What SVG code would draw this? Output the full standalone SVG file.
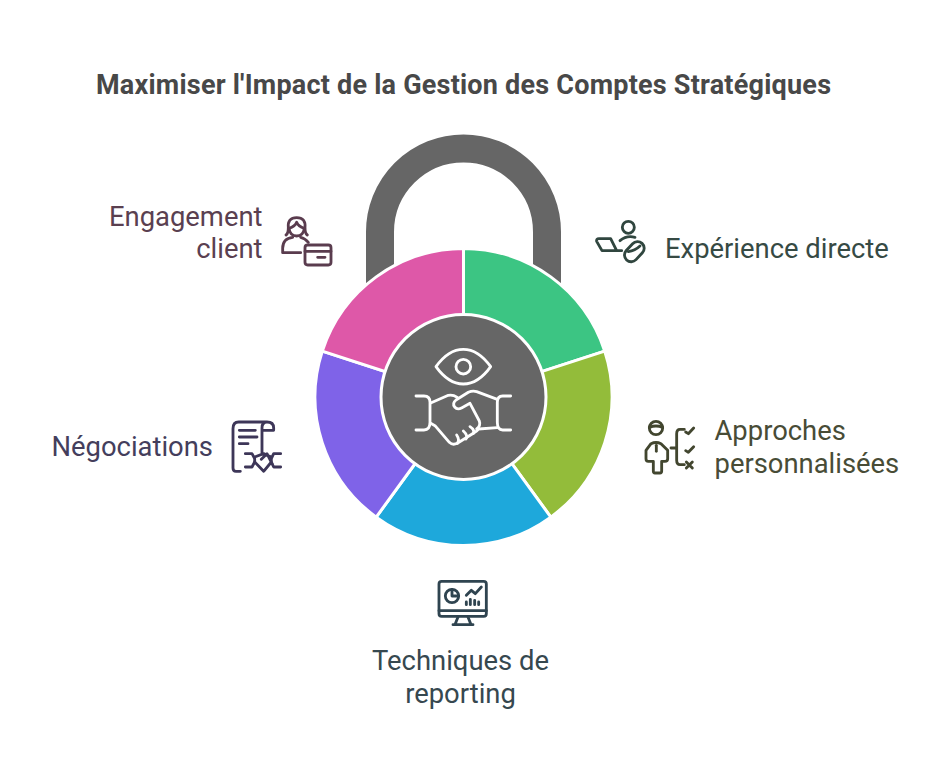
<svg xmlns="http://www.w3.org/2000/svg" width="944" height="779" viewBox="0 0 944 779">
<style>
text{font-family:Roboto,"Liberation Sans",sans-serif;font-size:27.4px}
.t{font-size:27px;font-weight:700;fill:#484848}
.seg{stroke:#fff;stroke-width:3;stroke-linejoin:round}
.ic{fill:none;stroke-width:8.500;stroke-linecap:round;stroke-linejoin:round}
.e{text-anchor:end}
.m{text-anchor:middle}
</style>
<rect width="944" height="779" fill="#fff"/>
<text class="t" x="96" y="94" textLength="735">Maximiser l'Impact de la Gestion des Comptes Stratégiques</text>
<g id="lock">
<path d="M380 300V232a83.500 83.500 0 0 1 167 0V300" fill="none" stroke="#666" stroke-width="28"/>
</g>
<g id="seg-experience"><path class="seg" fill="#3CC583" d="M463.500 248.500A148.500 148.500 0 0 1 604.700 351.100L463.500 397Z"/></g>
<g id="seg-approches"><path class="seg" fill="#93BC3A" d="M604.700 351.100A148.500 148.500 0 0 1 550.800 517.100L463.500 397Z"/></g>
<g id="seg-reporting"><path class="seg" fill="#1EA8DB" d="M550.800 517.100A148.500 148.500 0 0 1 376.200 517.100L463.500 397Z"/></g>
<g id="seg-negociations"><path class="seg" fill="#7F63E8" d="M376.200 517.100A148.500 148.500 0 0 1 322.300 351.100L463.500 397Z"/></g>
<g id="seg-engagement"><path class="seg" fill="#DE58A8" d="M322.300 351.100A148.500 148.500 0 0 1 463.500 248.500L463.500 397Z"/></g>
<g id="hub">
<circle cx="463.500" cy="397" r="82.500" fill="#666" stroke="#fff" stroke-width="3"/>
<g class="ic" stroke="#fff" transform="translate(380 315) scale(.3333)">
<path d="M168 155Q205 103 250 103T332 155Q295 207 250 207T168 155Z"/>
<circle cx="250" cy="155" r="22"/>
<path d="M108 243H132Q150 243 150 262V322Q150 345 132 345H108"/>
<path d="M392 243H368Q352 243 352 262V322Q352 345 368 345H392"/>
<path d="M152 264L205 241Q218 238 232 247"/>
<path d="M352 253L290 230Q278 226 265 232L228 255Q216 265 224 276Q232 286 246 278L270 265L298 318Q303 332 290 342"/>
<path d="M152 325L165 332L208 382Q218 392 232 385L280 355Q292 348 296 342L352 338"/>
<path d="M232 385Q240 375 230 360M258 372Q265 362 250 348M280 355Q285 345 270 335"/>
</g>
</g>
<g id="node-engagement">
<g class="ic" stroke="#5A3C4E" transform="translate(270 205) scale(.3333)">
<path d="M48 90Q55 85 55 68Q52 38 80 38Q108 38 105 68Q105 85 112 90"/>
<path d="M57 70Q75 65 80 52Q85 65 103 70Q100 93 80 93Q60 93 57 70Z"/>
<path d="M92 143H38V130Q38 100 68 97M92 97Q105 100 115 112"/>
<rect x="105" y="120" width="78" height="60" rx="8"/>
<path d="M105 139H183M143 157H165"/>
</g>
<text class="e" x="262.500" y="226" fill="#5A4050">Engagement</text>
<text class="e" x="262.500" y="258" fill="#5A4050">client</text>
</g>
<g id="node-experience">
<g class="ic" stroke="#30463F" transform="translate(590 210) scale(.3333)">
<circle cx="115" cy="52" r="18"/>
<path d="M90 92Q110 75 135 82"/>
<path d="M20 94Q18 86 27 86H62L80 122H36ZM80 122H95"/>
<rect x="99" y="105" width="68" height="40" rx="20" transform="rotate(-47 133 125)"/>
<path d="M115 125Q135 122 150 108"/>
</g>
<text x="665" y="258" fill="#364A44">Expérience directe</text>
</g>
<g id="node-approches">
<g class="ic" stroke="#42462F" transform="translate(635 412) scale(.3333)">
<circle cx="63" cy="48" r="20"/>
<path d="M43 46Q63 38 83 46"/>
<path d="M48 95L33 115V140Q33 148 40 148H55V178Q55 183 60 183H75Q80 183 80 178V148H90Q98 148 98 140V115L78 95Q63 88 48 95Z"/>
<path d="M64 100V118"/>
<path d="M148 52H135Q125 52 125 65V145Q125 158 135 158H148M108 108H125"/>
<path d="M152 60L160 65L176 48M152 116L160 121L176 104M154 150L172 168M172 150L154 168"/>
</g>
<text x="714.500" y="440" fill="#484C36">Approches</text>
<text x="714.500" y="473" fill="#484C36">personnalisées</text>
</g>
<g id="node-reporting">
<g class="ic" stroke="#2F4450" transform="translate(428 572) scale(.3333)">
<rect x="33" y="28" width="142" height="105" rx="8"/>
<path d="M33 116H175M90 135L82 155M120 135L128 155M75 158H135"/>
<circle cx="72" cy="72" r="20"/>
<path d="M72 52V72H92"/>
<path d="M115 70L130 55L142 65L160 45"/>
<path d="M115 98V90M127 98V82M140 98V85M152 98V90"/>
</g>
<text class="m" x="460.500" y="670" fill="#36484F">Techniques de</text>
<text class="m" x="460.500" y="703" fill="#36484F">reporting</text>
</g>
<g id="node-negociations">
<g class="ic" stroke="#3D3658" transform="translate(222 412) scale(.3333)">
<path d="M55 178H42Q33 178 33 168V50Q33 30 50 30H135Q155 30 155 48V55H120V48Q120 30 135 30M120 55V122"/>
<path d="M52 55H100M52 75H105M52 95H78"/>
<path d="M70 125H90L98 140V150L90 165H70M176 125H155L148 140V150L155 165H176"/>
<path d="M98 135L125 125L148 135M98 150L125 178L148 150M118 142L135 125L150 155"/>
</g>
<text class="e" x="213" y="456" fill="#443E5C">Négociations</text>
</g>
</svg>
